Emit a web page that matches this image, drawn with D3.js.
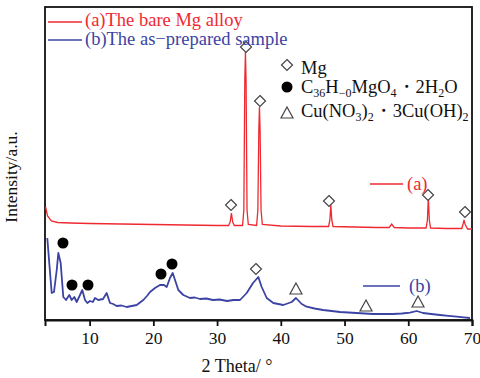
<!DOCTYPE html>
<html><head><meta charset="utf-8">
<script src="https://cdn.jsdelivr.net/npm/d3@7/dist/d3.min.js"></script>
<style>
html,body{margin:0;padding:0;background:#fff;}
svg{display:block;font-family:"Liberation Serif","Times New Roman",serif;}
svg text{font-family:"Liberation Serif","Times New Roman",serif;}
</style></head>
<body><svg id="c" width="480" height="378"></svg>
<script>
// ---------- data ----------
const xTicks = [10, 20, 30, 40, 50, 60, 70];
const seriesNames = ["(a)The bare Mg alloy", "(b)The as\u2212prepared sample"];
const curveLabels = ["(a)", "(b)"];

const redTheta = [3.1, 3.4, 4.0, 5.0, 7.0, 10, 15, 20, 25, 30, 31.8, 32.05, 32.25, 32.45, 32.7, 34.0, 34.2, 34.35, 34.45, 34.55, 34.7, 34.9,
  36.2, 36.4, 36.55, 36.65, 36.75, 36.9, 37.1, 40, 45, 47.5, 47.7, 47.85, 48.0, 48.2, 55, 57.0, 57.4, 57.8, 60, 62.8, 63.0, 63.15, 63.3, 63.5,
  66, 68.4, 68.6, 68.75, 68.9, 69.3, 70];
const redIntensity = [113, 104, 99, 97.5, 97, 96.5, 96, 95.5, 95, 94.5, 94.5, 98, 107, 98, 94.5, 94.5, 110, 240, 268, 240, 110, 95.5,
  94.5, 110, 190, 213, 190, 110, 95.5, 94, 93.5, 93.5, 100, 115, 100, 93.5, 92.5, 92.5, 96, 92.5, 92, 92, 100, 123, 100, 92,
  91.5, 91.5, 96, 100, 96, 91, 91];

const blueTheta = [3.36, 3.67, 4.05, 4.41, 4.84, 5.09, 5.46, 5.87, 6.30, 6.81, 7.19, 7.60, 7.97, 8.49, 8.85, 9.28, 9.64, 10.06, 10.5, 10.85,
  11.36, 12.1, 12.68, 13.2, 13.7, 14.25, 15.0, 15.82, 16.6, 17.39, 18.42, 19.0, 19.48, 20.26, 21.04, 21.67, 22.1, 22.61, 23.04, 23.4, 23.92,
  24.7, 25.75, 26.5, 27.32, 28.3, 29.36, 30.4, 31.56, 32.6, 33.6, 34.65, 35.64, 36.47, 37.0, 37.79, 38.82, 39.6, 40.39, 41.71, 42.38,
  43.28, 44.06, 45.3, 46.62, 48.0, 49.29, 50.6, 51.9, 53.2, 54.47, 56.0, 57.6, 59.0, 60.27, 61.33, 62.31, 63.6, 64.98, 66.3, 67.6, 68.7, 69.69];
const blueIntensity = [82, 57, 27, 28, 50, 67, 57, 23, 20, 25, 20, 23, 18, 25, 30, 20, 17, 19, 18, 22,
  20, 21, 27, 17, 16, 14, 14.5, 13, 14, 15, 20, 24, 28, 32, 35, 35, 33, 42, 47, 40, 30,
  25, 22, 22.5, 21, 21.5, 20, 20.5, 19, 20, 20, 27, 37, 43, 33, 22, 17, 16, 15, 18, 22,
  16, 13.3, 11.5, 10, 9, 8, 7.5, 7, 6.5, 6, 6.2, 6, 6.5, 7.3, 9, 7, 6, 5, 4.2, 3.3, 2.6, 2];

const mgTheta = [32.19, 34.54, 36.74, 47.56, 63.1, 68.9, 36.1];
const mgIntensity = [115, 273, 219, 119, 125, 108, 51];
const c36Theta = [5.82, 7.24, 9.75, 21.2, 22.93];
const c36Intensity = [77, 35, 35, 46, 56];
const cuTheta = [42.38, 53.37, 61.53];
const cuIntensity = [31, 14, 18];

// ---------- layout ----------
const m = {left: 45, right: 472, top: 7, bottom: 320};
const red = "#ee2a30", blue = "#3b43a3";
const svg = d3.select("#c");

const x = d3.scaleLinear().domain([3, 70]).range([m.left, m.right]);
const y = d3.scaleLinear().domain([0, 313]).range([m.bottom, m.top]);

// frame
svg.append("rect").attr("x", m.left).attr("y", m.top)
  .attr("width", m.right - m.left).attr("height", m.bottom - m.top)
  .attr("fill", "none").attr("stroke", "#111").attr("stroke-width", 1.8);

// x axis
const ax = svg.append("g").attr("transform", `translate(0,${m.bottom})`)
  .call(d3.axisBottom(x).tickValues(xTicks).tickSize(6).tickPadding(6).tickFormat(d3.format("d")));
ax.attr("font-family", null).attr("font-size", null);
ax.select(".domain").attr("stroke", "#111").attr("stroke-width", 2);
ax.selectAll(".tick line").attr("stroke", "#111").attr("stroke-width", 1.8);
ax.selectAll(".tick text").style("font-family", "'Liberation Serif', serif").style("font-size", "17.5px").attr("fill", "#111");

svg.append("text").attr("x", 237).attr("y", 372).attr("text-anchor", "middle")
  .style("font-size", "18px").attr("fill", "#111").text("2 Theta/ \u00b0");
svg.append("text").attr("transform", "translate(17,177) rotate(-90)").attr("text-anchor", "middle")
  .style("font-size", "17.5px").attr("fill", "#111").text("Intensity/a.u.");

// curves
const line = d3.line().x(d => x(d[0])).y(d => y(d[1]));
svg.append("path").datum(blueTheta.map((t, i) => [t, blueIntensity[i]]))
  .attr("d", line).attr("fill", "none").attr("stroke", blue).attr("stroke-width", 1.8).attr("stroke-linejoin", "round");
svg.append("path").datum(redTheta.map((t, i) => [t, redIntensity[i]]))
  .attr("d", line).attr("fill", "none").attr("stroke", red).attr("stroke-width", 1.3);

// markers
const diamond = "M0,-5.5L5.5,0L0,5.5L-5.5,0Z";
const tri = "M0,-6L6,5L-6,5Z";
function markers(th, it, kind) {
  th.forEach((t, i) => {
    const g = svg.append("g").attr("transform", `translate(${x(t)},${y(it[i])})`);
    if (kind === "d") g.append("path").attr("d", diamond).attr("fill", "#fff").attr("stroke", "#444").attr("stroke-width", 1.2);
    else if (kind === "c") g.append("circle").attr("r", 5.5).attr("fill", "#000");
    else g.append("path").attr("d", tri).attr("fill", "#fff").attr("stroke", "#444").attr("stroke-width", 1.2);
  });
}
markers(mgTheta, mgIntensity, "d");
markers(c36Theta, c36Intensity, "c");
markers(cuTheta, cuIntensity, "t");

// top-left legend
[[red, 22, 26], [blue, 40, 45]].forEach((r, i) => {
  svg.append("line").attr("x1", 48).attr("x2", 82).attr("y1", r[1]).attr("y2", r[1]).attr("stroke", r[0]).attr("stroke-width", 1.5);
  svg.append("text").attr("x", 85).attr("y", r[2]).style("font-size", "18.5px").attr("fill", r[0]).text(seriesNames[i]);
});

// curve labels
svg.append("line").attr("x1", 370).attr("x2", 403).attr("y1", 184).attr("y2", 184).attr("stroke", red).attr("stroke-width", 1.3);
svg.append("text").attr("x", 407).attr("y", 190).style("font-size", "18.5px").attr("fill", red).text(curveLabels[0]);
svg.append("line").attr("x1", 363).attr("x2", 400).attr("y1", 286).attr("y2", 286).attr("stroke", blue).attr("stroke-width", 1.5);
svg.append("text").attr("x", 409).attr("y", 292).style("font-size", "18.5px").attr("fill", blue).text(curveLabels[1]);

// phase legend
const lg = svg.append("g");
lg.append("path").attr("transform", "translate(287,65)").attr("d", diamond).attr("fill", "#fff").attr("stroke", "#444").attr("stroke-width", 1.2);
lg.append("circle").attr("cx", 287).attr("cy", 87).attr("r", 5.5).attr("fill", "#000");
lg.append("path").attr("transform", "translate(287,113)").attr("d", tri).attr("fill", "#fff").attr("stroke", "#444").attr("stroke-width", 1.2);

function chemText(yb, segs) {
  const t = lg.append("text").attr("x", 301).attr("y", yb).style("font-size", "18.5px").attr("fill", "#111");
  let sub = false;
  segs.forEach(s => {
    const isSub = s.startsWith("_");
    const txt = isSub ? s.slice(1) : s;
    const ts = t.append("tspan").text(txt);
    if (isSub) { ts.style("font-size", "12px").attr("dy", sub ? 0 : 4); sub = true; }
    else { ts.attr("dy", sub ? -4 : 0); sub = false; }
  });
}
chemText(74, ["Mg"]);
chemText(93, ["C", "_36", "H", "_\u22120", "MgO", "_4", "\u30fb2H", "_2", "O"]);
chemText(117, ["Cu(NO", "_3", ")", "_2", "\u30fb3Cu(OH)", "_2"]);
</script></body></html>
